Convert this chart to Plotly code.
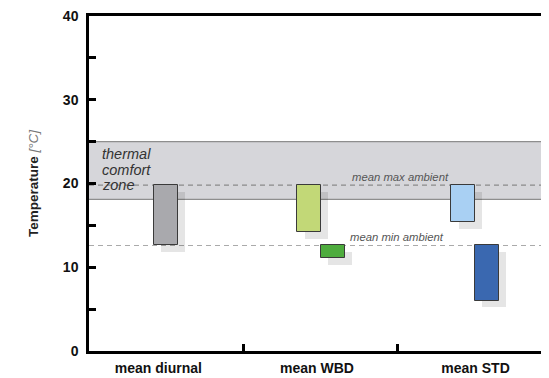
import plotly.graph_objects as go

# ---- data ----
categories = ["mean diurnal", "mean WBD", "mean STD"]
bar_names = ["diurnal", "WBD max", "WBD min", "STD max", "STD min"]
bar_category = [0, 1, 1, 2, 2]
bar_low = [12.6, 14.2, 11.1, 15.4, 6.0]
bar_high = [19.8, 19.8, 12.6, 19.8, 12.6]
bar_colors = ["#a9a9ad", "#c2d877", "#4eac3e", "#a9d0f3", "#3a68b0"]
comfort_low, comfort_high = 18.1, 25.0
comfort_label = ["thermal", "comfort", "zone"]
mean_max_ambient = 19.8
mean_min_ambient = 12.6
y_ticks = [0, 10, 20, 30, 40]

# ---- layout helpers ----
BAR_W = 0.153
LABEL_SHIFT = [-0.05, -0.02, 0.01]  # small nudges of category labels
# offset within category: single bar centered, pairs split (max left, min right)
def offset(i):
    c = bar_category[i]
    n = bar_category.count(c)
    if n == 1:
        return 0.0
    first = bar_category.index(c)
    return -0.07 if i == first else 0.083

fig = go.Figure()

# shadows
for i in range(len(bar_names)):
    x = bar_category[i] + 0.5 + offset(i) + 0.046
    fig.add_trace(go.Bar(
        x=[x], y=[bar_high[i] - bar_low[i]], base=[bar_low[i] - 0.8],
        width=BAR_W, marker=dict(color="rgba(0,0,0,0.10)", line=dict(width=0)),
        showlegend=False, hoverinfo="skip"))

# bars
for i in range(len(bar_names)):
    x = bar_category[i] + 0.5 + offset(i)
    fig.add_trace(go.Bar(
        x=[x], y=[bar_high[i] - bar_low[i]], base=[bar_low[i]],
        width=BAR_W, name=bar_names[i],
        marker=dict(color=bar_colors[i], line=dict(color="#3a3a3a", width=1)),
        showlegend=False))

# comfort zone band
fig.add_shape(type="rect", xref="x domain", yref="y", x0=0, x1=1,
              y0=comfort_low, y1=comfort_high, layer="below",
              fillcolor="#d6d6da", line=dict(width=0))
for yv in (comfort_low, comfort_high):
    fig.add_shape(type="line", xref="x domain", yref="y", x0=0, x1=1,
                  y0=yv, y1=yv, layer="below", line=dict(color="#8e8e8e", width=1.2))

# ambient lines
fig.add_shape(type="line", xref="x domain", yref="y", x0=0, x1=1,
              y0=mean_max_ambient, y1=mean_max_ambient, layer="below",
              line=dict(color="#8a8a8a", width=1.2, dash="5px,4px"))
fig.add_shape(type="line", xref="x domain", yref="y", x0=0, x1=1,
              y0=mean_min_ambient, y1=mean_min_ambient, layer="below",
              line=dict(color="#aaaaaa", width=1.2, dash="5px,4px"))

FONT = "Liberation Sans, Arial, sans-serif"

# comfort zone label, one line per annotation for tight line spacing
LINE_STEP = 1.85  # in temperature units
for k, word in enumerate(comfort_label):
    fig.add_annotation(x=0.072, y=comfort_high - 1.5 - k * LINE_STEP, xref="x", yref="y",
                       text=f"<i>{word}</i>", showarrow=False,
                       xanchor="left", yanchor="middle",
                       font=dict(family=FONT, size=14.5, color="#333333"))
fig.add_annotation(x=2.02, y=mean_max_ambient + 0.05, xref="x", yref="y",
                   text="<i>mean max ambient</i>", showarrow=False,
                   xanchor="center", yanchor="bottom",
                   font=dict(family=FONT, size=11.3, color="#555555"))
fig.add_annotation(x=2.0, y=mean_min_ambient + 0.05, xref="x", yref="y",
                   text="<i>mean min ambient</i>", showarrow=False,
                   xanchor="center", yanchor="bottom",
                   font=dict(family=FONT, size=11.3, color="#555555"))

# page body adds an 8px margin, so the figure is sized/placed to compensate
fig.update_layout(
    width=541, height=370,
    margin=dict(l=81, r=0, t=8, b=27, autoexpand=False),
    paper_bgcolor="white", plot_bgcolor="white",
    barmode="overlay", bargap=0,
    font=dict(family=FONT, color="black"),
    showlegend=False,
)
fig.update_xaxes(
    range=[0, 2.987], showgrid=False, zeroline=False,
    showline=True, linecolor="black", linewidth=2.5, mirror=True,
    tickvals=[i + 0.5 + LABEL_SHIFT[i] for i in range(len(categories))],
    ticktext=[f"<b>{c}</b>" for c in categories],
    ticks="", tickfont=dict(family=FONT, size=14, color="#111"),
    ticklabelstandoff=2, ticklabeloverflow="allow",
    minor=dict(tickvals=[1, 2, 3], ticks="inside", ticklen=7, tickwidth=2.5, tickcolor="black"),
)
fig.update_yaxes(
    range=[0, 40], showgrid=False, zeroline=False,
    showline=True, linecolor="black", linewidth=2.5, mirror=False,
    tickvals=y_ticks, ticktext=[f"<b>{v}</b>" for v in y_ticks],
    ticks="inside", ticklen=7, tickwidth=2.5, tickcolor="black",
    tickfont=dict(family=FONT, size=14, color="#111"),
    ticklabelstandoff=5, ticklabeloverflow="allow",
    minor=dict(dtick=5, tick0=0, ticks="inside", ticklen=7, tickwidth=2.5, tickcolor="black"),
    title=dict(text="<b>Temperature</b> <i><span style='color:#777'>[°C]</span></i>",
               font=dict(family=FONT, size=13.5, color="#222"), standoff=22),
)

fig.write_html("out.html")
